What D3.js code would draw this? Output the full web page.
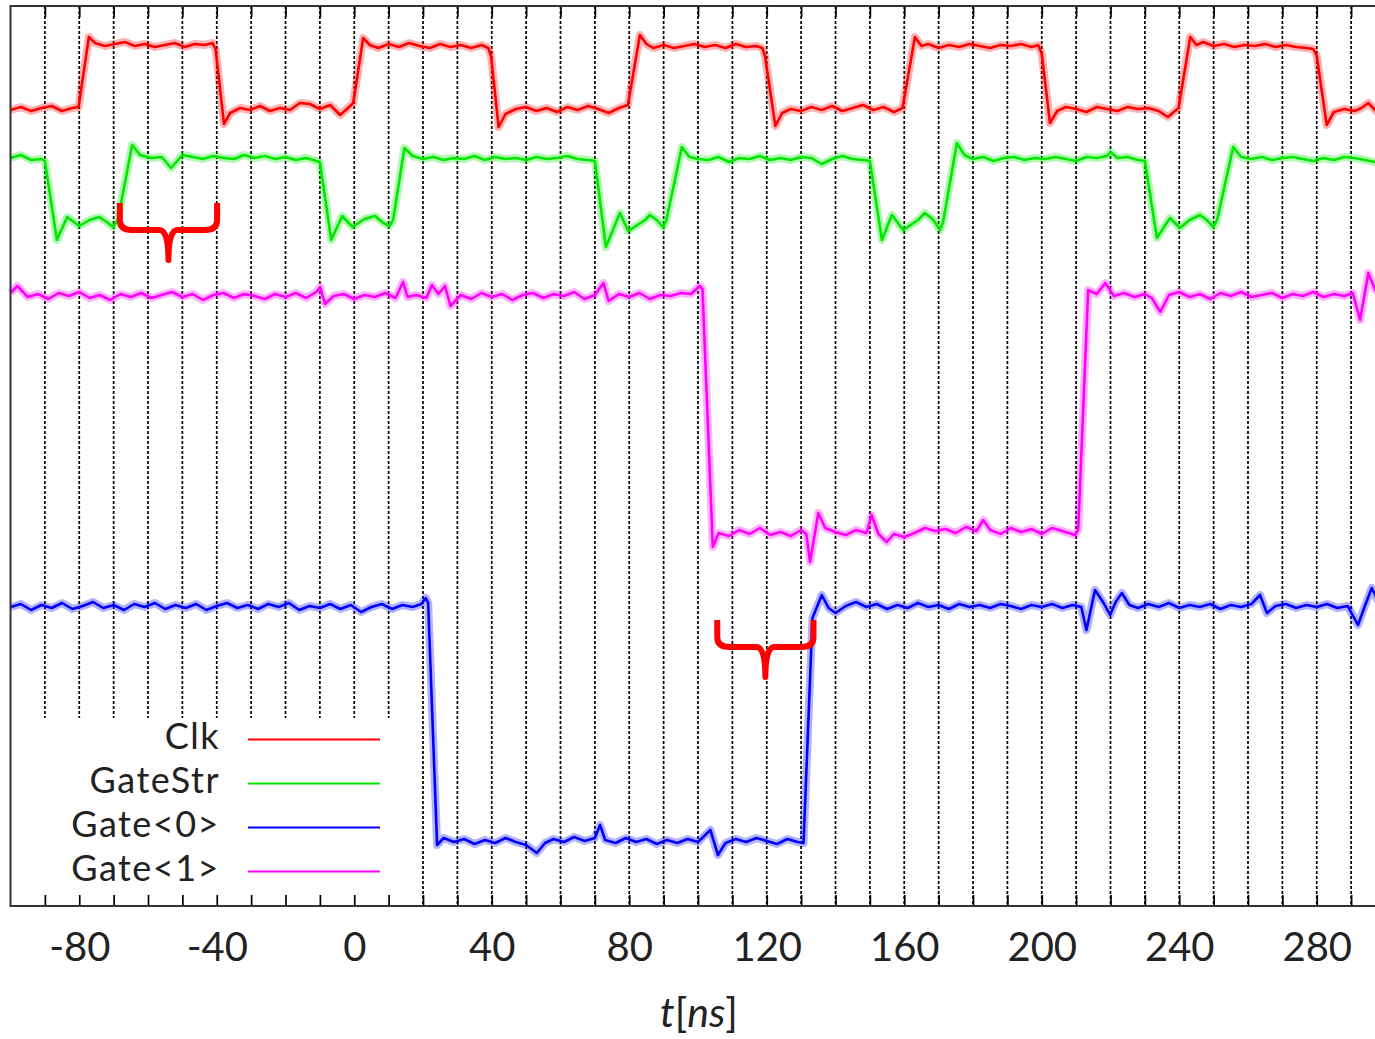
<!DOCTYPE html>
<html>
<head>
<meta charset="utf-8">
<script src="https://cdn.jsdelivr.net/npm/d3@7"></script>
<style>
  body { margin: 0; background: #fff; }
  svg { display: block; }
  text { font-family: Lato, "Open Sans", sans-serif; fill: #222; }
</style>
</head>
<body>
<svg id="chart" width="1375" height="1039"></svg>
<script>
// Tick labels on the time axis (ns)
const tickLabels = [-80, -40, 0, 40, 80, 120, 160, 200, 240, 280];

const seriesNames = ["Clk", "GateStr", "Gate<0>", "Gate<1>"];

// Traces: [t in ns, level in plot units]
const clk = [
  [-100,796],[-97,799],[-94,795],[-91,798],[-88,800],[-85,795],[-82,798],[-80.2,799],
  [-77.2,869],[-75.4,863],[-72.5,860],[-69.6,862],[-66.7,864],[-63.8,860],[-60.9,862],[-58,859],[-55.1,861],[-52.2,863],[-49.3,859],[-46.4,862],[-43.5,861],[-41.2,863],[-40.3,856],
  [-37.9,782],[-36.1,793],[-33.2,798],[-30.3,796],[-27.4,800],[-24.5,795],[-21.6,798],[-18.7,796],[-15.8,803],[-12.9,802],[-10,797],[-7,801],[-4.1,791],[-1.2,800],[-0.3,803],
  [2.6,868],[4.5,861],[7,858],[10,862],[13,859],[16,863],[19,860],[22,858],[25,862],[28,859],[31,861],[34,858],[37,861],[39,858],
  [39.8,850],[42,779],[44,792],[47,797],[50,799],[53,795],[56,798],[59,794],[62,799],[65,796],[68,800],[71,797],[74,793],[77,798],[79.6,801],
  [83.1,871],[85,862],[87,858],[90,861],[93,858],[96,860],[99,862],[102,859],[105,861],[108,858],[111,862],[114,859],[117,860],[118.7,858],
  [119.5,850],[122.5,780],[124.5,793],[127,797],[130,795],[133,799],[136,796],[139,800],[142,795],[145,798],[148,801],[151,796],[154,799],[157,794],[159.5,798],
  [163.1,869],[165,860],[167,862],[170,858],[173,861],[176,859],[179,862],[182,860],[185,858],[188,861],[191,860],[194,862],[197,859],[199,861],
  [200,852],[202.4,783],[204.5,795],[207,799],[210,797],[213,794],[216,799],[219,797],[222,795],[225,799],[228,797],[231,798],[234,795],[236.7,789],[239.8,798],
  [243.2,869],[245,861],[247,864],[250,860],[253,862],[256,859],[259,861],[262,860],[265,862],[268,859],[271,861],[274,859],[277,858],[279,857],
  [280,850],[282.9,781],[285,794],[288,797],[291,795],[293,798],[295,803],[297.5,794],[300,797]
];

const gateStr = [
  [-100,748],[-97,751],[-94,746],[-91,747],[-90,745],
  [-86.5,666],[-83.5,689],[-80,680],[-77,686],[-74.2,689],[-72,684],[-70.2,679],[-68.8,686],
  [-64.6,761],[-62.3,751],[-59,748],[-56,749],[-53.3,738],[-50,751],[-47,749],[-44,747],[-41,750],[-38,748],[-35,747],[-32,751],[-29,748],[-26,750],[-23,747],[-20,749],[-17,746],[-14,748],[-11,745],[-10,744],
  [-6.7,666],[-3.5,690],[-0.5,679],[3,687],[6,690],[8.5,683],[10.2,680],[11.3,686],
  [14.6,758],[17,750],[20,747],[23,749],[26,746],[29,748],[32,747],[35,750],[38,746],[41,749],[44,747],[47,748],[50,746],[53,749],[56,747],[59,748],[62,750],[65,747],[68,746],[70,745],
  [73.2,659],[77.3,693],[79.7,675],[84.6,686],[86,691],[88,686],[89.8,679],[90.8,686],
  [95.3,759],[97.5,749],[100,747],[103,746],[106,749],[109,744],[112,748],[115,747],[118,750],[121,746],[124,748],[127,746],[130,749],[133,748],[136,742],[139,747],[142,750],[145,747],[148,746],[150,745],
  [153.5,666],[156.4,691],[159.7,676],[164,686],[166,693],[168.5,686],[170.4,676],[171.3,684],
  [175.3,763],[177.5,751],[180,747],[183,749],[186,745],[189,748],[192,749],[195,746],[198,748],[201,747],[204,749],[207,747],[210,745],[213,749],[216,748],[219,750],[220,754],[222,748],[225,749],[228,746],[230,745],
  [233.5,668],[237.3,688],[240.2,678],[243,686],[246,691],[248,686],[249.9,679],[251,686],
  [255.7,759],[258,749],[261,747],[264,749],[267,746],[270,748],[273,749],[276,747],[279,745],[282,748],[285,746],[288,749],[291,748],[294,746],[297,744],[300,745]
];

const gate0 = [
  [-100,299],[-97,302],[-94,296],[-91,301],[-88,298],[-85,303],[-82,297],[-79,300],[-76,304],[-73,298],[-70,301],[-67,296],[-64,302],[-61,299],[-58,303],[-55,297],[-52,301],[-49,298],[-46,302],[-43,296],[-40,300],[-37,303],[-34,298],[-31,301],[-28,297],[-25,302],[-22,299],[-19,303],[-16,296],[-13,300],[-10,298],[-7,302],[-4,297],[-1,301],[2,294],[5,299],[8,302],[11,297],[14,301],[17,299],[19.5,302],[20.8,308],[21.5,303],
  [24.1,61],[26,68],[29,64],[32,67],[35,62],[38,66],[41,63],[44,68],[47,64],[50,61],[53.1,53],[55.5,63],[58,67],[61,64],[64,69],[67,65],[70,68],[71.5,81],[73,66],[76,63],[79,68],[82,64],[85,67],[88,62],[91,66],[94,63],[97,67],[100,64],[103.6,76],[105.8,51],[108,63],[111,67],[114,64],[117,68],[120,65],[123,62],[126,67],[129,64],[130.7,63],
  [133.3,288],[136,311],[138,298],[140,293],[143,300],[146,304],[149,299],[152,302],[155,297],[158,301],[161,298],[164,303],[167,299],[170,301],[173,297],[176,302],[179,299],[182,301],[185,298],[188,302],[191,300],[194,297],[197,301],[200,299],[203,302],[206,298],[209,301],[211.5,299],[213,276],[215.5,316],[218,303],[219.9,291],[221.5,304],[223.3,313],[225.5,301],[228,298],[231,302],[234,299],[237,303],[240,298],[243,301],[246,299],[249,302],[252,297],[255,301],[258,299],[261,302],[263.5,311],[265.5,293],[268,300],[271,302],[274,298],[277,301],[280,299],[283,302],[286,298],[289,300],[292,281],[294,300],[296,318],[298,304],[300,301]
];

const gate1 = [
  [-100,613],[-98,620],[-95,609],[-92,612],[-89,607],[-86,613],[-83,610],[-80,614],[-77,608],[-74,611],[-71,606],[-68,612],[-65,609],[-62,613],[-59,608],[-56,611],[-53,614],[-50,609],[-47,612],[-44,606],[-41,611],[-38,613],[-35,608],[-32,612],[-29,610],[-26,607],[-23,612],[-20,609],[-17,613],[-14,608],[-11,614],[-9.9,619],[-8.5,602],[-6,610],[-3,612],[0,607],[3,611],[6,609],[9,613],[12,608],[14.2,624],[15.5,609],[18,611],[21,608],[22.6,621],[24.5,612],[26.4,620],[28,600],[31,611],[34,607],[37,613],[40,609],[43,612],[46,606],[49,611],[52,613],[55,608],[58,612],[61,610],[64,614],[67,607],[70,611],[72.5,623],[74,605],[77,612],[80,609],[83,613],[86,607],[89,611],[92,610],[95,613],[98,612],[100.5,620],[101.3,617],
  [104.3,359],[106,373],[109,370],[112,376],[115,372],[118,378],[121,371],[124,374],[127,370],[130,376],[131.5,372],[132.6,344],[135,393],[137,378],[140,374],[143,371],[146,376],[149,373],[150.5,391],[152.5,372],[154.9,364],[157,372],[160,369],[163,373],[166,378],[169,375],[172,377],[175,373],[178,379],[181,375],[183,386],[185,376],[188,372],[191,378],[194,374],[197,377],[200,372],[203,378],[206,375],[209.7,371],[210.6,376],
  [213.5,616],[216,612],[218.5,623],[221,610],[224,613],[227,609],[230,612],[232,608],[234.5,594],[237,611],[240,614],[243,609],[246,612],[249,607],[252,613],[255,610],[258,614],[261,609],[264,611],[267,613],[270,608],[273,612],[276,610],[279,614],[282,609],[285,612],[288,610],[290.5,613],[292.6,586],[295,633],[297,616],[300,612]
];

// Red curly-brace annotations: span [t0, t1] and levels for top, bar and tip
const braces = [
  { t0: -68.2, t1: -39.9, top: 703, bar: 676, tip: 646 },
  { t0: 105.6, t1: 133.6, top: 286, bar: 259, tip: 229 }
];

const colors = ["#ff0000", "#00e800", "#0000ff", "#ff00ff"];
const traces = [clk, gateStr, gate0, gate1];

const svg = d3.select("#chart");

const x = d3.scaleLinear().domain([-100, 300]).range([10.5, 1385.5]);
const y = d3.scaleLinear().domain([0, 900]).range([906, 6]);

const gridTimes = d3.range(-90, 300, 10);

// Dashed vertical grid
svg.append("g")
  .selectAll("line")
  .data(gridTimes)
  .enter().append("line")
  .attr("x1", d => x(d)).attr("x2", d => x(d))
  .attr("y1", y(900)).attr("y2", y(0))
  .attr("stroke", "#000")
  .attr("stroke-width", 1.7)
  .attr("stroke-dasharray", "3,2");

// Traces: a soft halo for the noise band, then the core line
const line = d3.line().x(d => x(d[0])).y(d => y(d[1]));

const traceG = svg.append("g");
traces.forEach((tr, i) => {
  traceG.append("path")
    .attr("d", line(tr))
    .attr("fill", "none")
    .attr("stroke", colors[i])
    .attr("stroke-opacity", 0.3)
    .attr("stroke-width", 8)
    .attr("stroke-linejoin", "round");
  traceG.append("path")
    .attr("d", line(tr))
    .attr("fill", "none")
    .attr("stroke", colors[i])
    .attr("stroke-width", 2.6)
    .attr("stroke-linejoin", "round");
});

// Key box (opaque, covers the grid)
const key = svg.append("g");
key.append("rect")
  .attr("x", 12).attr("y", 718)
  .attr("width", 393).attr("height", 187)
  .attr("fill", "#fff");

seriesNames.forEach((name, i) => {
  const base = 749 + i * 44;
  key.append("text")
    .attr("x", 220).attr("y", base)
    .attr("text-anchor", "end")
    .attr("font-size", 36)
    .attr("letter-spacing", 1.5)
    .text(name);
  key.append("line")
    .attr("x1", 248).attr("x2", 380)
    .attr("y1", base - 9.5).attr("y2", base - 9.5)
    .attr("stroke", colors[i])
    .attr("stroke-width", 2);
});

// Axes: inward ticks at every 10 ns, labels every 40 ns
const xAxis = d3.axisBottom(x)
  .tickValues(gridTimes)
  .tickSize(-11)
  .tickPadding(27)
  .tickFormat(d => tickLabels.includes(d) ? String(d) : "");

const axisG = svg.append("g")
  .attr("transform", `translate(0,${y(0)})`)
  .call(xAxis);
axisG.select(".domain").remove();
axisG.selectAll(".tick line").attr("stroke", "#000").attr("stroke-width", 1.7);
axisG.selectAll(".tick text")
  .attr("font-size", 40)
  .attr("font-family", "Lato, 'Open Sans', sans-serif")
  .attr("fill", "#222");

const topAxis = d3.axisTop(x)
  .tickValues(gridTimes)
  .tickSize(-11)
  .tickFormat("");
const topG = svg.append("g")
  .attr("transform", `translate(0,${y(900)})`)
  .call(topAxis);
topG.select(".domain").remove();
topG.selectAll(".tick line").attr("stroke", "#000").attr("stroke-width", 1.7);

// Plot frame
svg.append("rect")
  .attr("x", x(-100)).attr("y", y(900))
  .attr("width", x(300) - x(-100)).attr("height", y(0) - y(900))
  .attr("fill", "none")
  .attr("stroke", "#333")
  .attr("stroke-width", 2);

// Axis title t[ns]
const title = svg.append("text")
  .attr("x", 699).attr("y", 1027)
  .attr("text-anchor", "middle")
  .attr("font-size", 41);
title.append("tspan").attr("font-style", "italic").text("t");
title.append("tspan").text("[");
title.append("tspan").attr("font-style", "italic").text("ns");
title.append("tspan").text("]");

// Curly braces
const braceG = svg.append("g");
braces.forEach(b => {
  const x0 = x(b.t0), x1 = x(b.t1), xc = (x0 + x1) / 2;
  const yt = y(b.top), ym = y(b.bar), yp = y(b.tip);
  const p = d3.path();
  p.moveTo(x0, yt);
  p.lineTo(x0, ym - 10);
  p.quadraticCurveTo(x0, ym, x0 + 12, ym);
  p.lineTo(xc - 9, ym);
  p.quadraticCurveTo(xc, ym, xc, yp);
  p.quadraticCurveTo(xc, ym, xc + 9, ym);
  p.lineTo(x1 - 12, ym);
  p.quadraticCurveTo(x1, ym, x1, ym - 10);
  p.lineTo(x1, yt);
  braceG.append("path")
    .attr("d", p.toString())
    .attr("fill", "none")
    .attr("stroke", "#ff0000")
    .attr("stroke-width", 6)
    .attr("stroke-linejoin", "round");
});
</script>
</body>
</html>
